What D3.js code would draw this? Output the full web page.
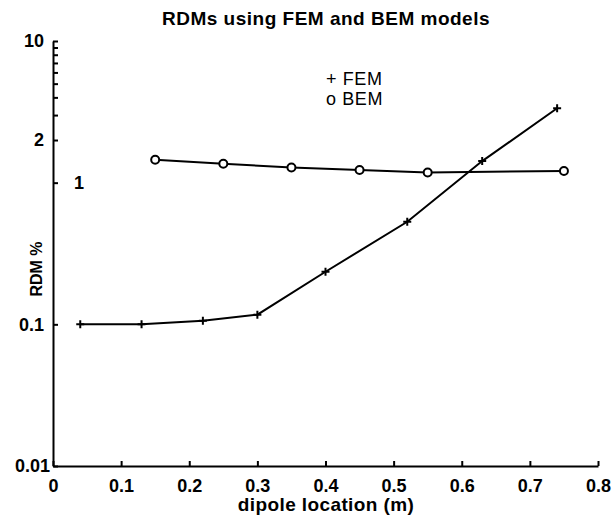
<!DOCTYPE html>
<html lang="en">
<head>
  <meta charset="UTF-8">
  <title>RDMs using FEM and BEM models</title>
  <style>
    body {
      margin: 0;
      background: #fff;
      font-family: "Liberation Sans", Arial, Helvetica, sans-serif;
    }
    svg text {
      fill: #000;
    }
  </style>
  <script src="https://d3js.org/d3.v7.min.js"></script>
</head>
<body>
  <svg width="612" height="518"></svg>
  <script>
    // data
    const femX = [0.04, 0.13, 0.22, 0.30, 0.40, 0.52, 0.63, 0.74];
    const femY = [0.1, 0.1, 0.106, 0.117, 0.235, 0.53, 1.42, 3.35];
    const bemX = [0.15, 0.25, 0.35, 0.45, 0.55, 0.75];
    const bemY = [1.45, 1.36, 1.28, 1.23, 1.18, 1.21];

    const xTicks = [0, 0.1, 0.2, 0.3, 0.4, 0.5, 0.6, 0.7, 0.8];
    const yTicks = [0.01, 0.1, 1, 2, 3, 4, 5, 6, 7, 8, 9, 10];
    const yTickLabels = ["0.01", "0.1", "1", "2", "", "", "", "", "", "", "", "10"];

    const svg = d3.select('svg');

    const x = d3.scaleLinear().domain([0, 0.8]).range([53, 598]);
    const y = d3.scaleLog().domain([0.01, 10]).range([466, 41]);

    // x axis, ticks pointing up into the plot
    const xAxis = svg.append('g')
      .attr('transform', `translate(0,${y(0.01)})`)
      .call(d3.axisBottom(x)
        .tickValues(xTicks)
        .tickFormat(d => d === 0 ? "0" : d3.format(".1f")(d))
        .tickSize(-5)
        .tickSizeOuter(0)
        .tickPadding(9));

    // y axis, ticks pointing right
    const yAxis = svg.append('g')
      .attr('transform', `translate(${x(0)},0)`)
      .call(d3.axisLeft(y)
        .tickValues(yTicks)
        .tickFormat((d, i) => yTickLabels[i])
        .tickSize(-5)
        .tickSizeOuter(0)
        .tickPadding(9));

    [xAxis, yAxis].forEach(a => {
      a.select('.domain').attr('stroke', '#000').attr('stroke-width', 2);
      a.selectAll('.tick line').attr('stroke', '#000').attr('stroke-width', 2);
      a.selectAll('.tick text')
        .attr('font-family', '"Liberation Sans", Arial, sans-serif')
        .attr('font-size', 18)
        .attr('font-weight', 'bold')
        .attr('fill', '#000');
    });
    xAxis.selectAll('.tick text').attr('dy', '0.93em');

    // the "1" label sits inside the axes in the original
    yAxis.selectAll('.tick text')
      .filter(d => d === 1)
      .attr('text-anchor', 'start')
      .attr('x', 21);
    yAxis.selectAll('.tick text')
      .filter(d => d === 0.01)
      .attr('x', -3);

    const line = d3.line().x(d => x(d[0])).y(d => y(d[1]));

    const fem = femX.map((v, i) => [v, femY[i]]);
    const bem = bemX.map((v, i) => [v, bemY[i]]);

    svg.append('path')
      .datum(fem)
      .attr('d', line)
      .attr('fill', 'none')
      .attr('stroke', '#000')
      .attr('stroke-width', 2);

    svg.append('path')
      .datum(bem)
      .attr('d', line)
      .attr('fill', 'none')
      .attr('stroke', '#000')
      .attr('stroke-width', 2);

    // plus markers
    svg.selectAll('.plus')
      .data(fem)
      .enter().append('path')
      .attr('class', 'plus')
      .attr('d', d => {
        const px = x(d[0]), py = y(d[1]);
        return `M${px - 4},${py}H${px + 4}M${px},${py - 4}V${py + 4}`;
      })
      .attr('stroke', '#000')
      .attr('stroke-width', 2);

    // circle markers
    svg.selectAll('.circ')
      .data(bem)
      .enter().append('circle')
      .attr('class', 'circ')
      .attr('cx', d => x(d[0]))
      .attr('cy', d => y(d[1]))
      .attr('r', 4)
      .attr('fill', '#fff')
      .attr('stroke', '#000')
      .attr('stroke-width', 2);

    // title and labels
    svg.append('text')
      .attr('x', 326)
      .attr('y', 25)
      .attr('text-anchor', 'middle')
      .attr('font-size', 19)
      .attr('font-weight', 'bold')
      .attr('letter-spacing', 0.5)
      .text('RDMs using FEM and BEM models');

    svg.append('text')
      .attr('x', 326)
      .attr('y', 511)
      .attr('text-anchor', 'middle')
      .attr('font-size', 19)
      .attr('font-weight', 'bold')
      .attr('letter-spacing', 0.4)
      .text('dipole location (m)');

    svg.append('text')
      .attr('transform', 'translate(42,269) rotate(-90)')
      .attr('text-anchor', 'middle')
      .attr('font-size', 16)
      .attr('font-weight', 'bold')
      .text('RDM %');

    const legend = ["+ FEM", "o BEM"];
    svg.selectAll('.legend')
      .data(legend)
      .enter().append('text')
      .attr('class', 'legend')
      .attr('x', 326)
      .attr('y', (d, i) => 85 + i * 20)
      .attr('font-size', 18)
      .attr('letter-spacing', 0.6)
      .text(d => d);
  </script>
</body>
</html>
